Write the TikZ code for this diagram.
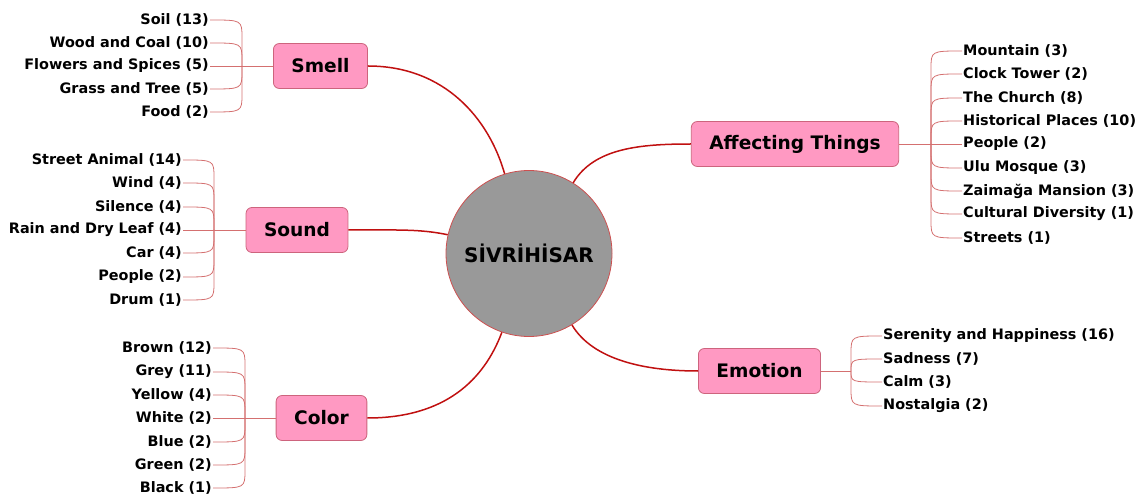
\documentclass[tikz,border=0pt]{standalone}
\usepackage{fontspec}
\setmainfont{DejaVu Sans}
\definecolor{boxpink}{RGB}{255,153,194}
\definecolor{boxedge}{RGB}{205,100,125}
\definecolor{trunkred}{RGB}{192,16,16}
\definecolor{twigred}{RGB}{212,112,112}
\definecolor{hubgrey}{RGB}{153,153,153}
\definecolor{hubedge}{RGB}{205,80,80}
\tikzset{
  hub/.style={circle, draw=hubedge, line width=0.8pt, fill=hubgrey, minimum size=166pt,
    inner sep=0pt, font=\fontsize{20}{23}\selectfont\bfseries},
  theme/.style={rectangle, rounded corners=6pt, draw=boxedge, line width=0.8pt, fill=boxpink,
    minimum height=45pt, inner xsep=18pt, font=\fontsize{18.6}{21}\selectfont\bfseries},
  leaf/.style={inner xsep=1pt, inner ysep=0pt, font=\fontsize{14.4}{16}\selectfont\bfseries},
  trunk/.style={draw=trunkred, line width=1.5pt},
  twig/.style={draw=twigred, line width=0.8pt}
}
\begin{document}
\begin{tikzpicture}[x=1pt,y=-1pt]
\useasboundingbox (0,0) rectangle (1135,494);

%% centre
\node[hub] (hub) at (529,253.5) {SİVRİHİSAR};

%% themes
\node[theme] (smell) at (320.5,66) {Smell};
\node[theme] (sound) at (297,230) {Sound};
\node[theme] (color) at (321.5,418) {Color};
\node[theme] (affecting) at (795,144) {Affecting Things};
\node[theme] (emotion) at (759.5,371) {Emotion};

%% junctions
\coordinate (smelljoin) at (242,66);
\coordinate (soundjoin) at (214,230);
\coordinate (colorjoin) at (245,418);
\coordinate (affjoin) at (931,144);
\coordinate (emojoin) at (851,371);

%% smell leaves
\node[leaf, anchor=east] (soil) at (210,20) {Soil (13)};
\node[leaf, anchor=east] (woodcoal) at (210,43) {Wood and Coal (10)};
\node[leaf, anchor=east] (flowers) at (210,66) {Flowers and Spices (5)};
\node[leaf, anchor=east] (grasstree) at (210,89) {Grass and Tree (5)};
\node[leaf, anchor=east] (food) at (210,112) {Food (2)};

%% sound leaves
\node[leaf, anchor=east] (animal) at (183,160) {Street Animal (14)};
\node[leaf, anchor=east] (wind) at (183,183) {Wind (4)};
\node[leaf, anchor=east] (silence) at (183,207) {Silence (4)};
\node[leaf, anchor=east] (rainleaf) at (183,230) {Rain and Dry Leaf (4)};
\node[leaf, anchor=east] (car) at (183,253) {Car (4)};
\node[leaf, anchor=east] (people) at (183,277) {People (2)};
\node[leaf, anchor=east] (drum) at (183,300) {Drum (1)};

%% color leaves
\node[leaf, anchor=east] (brown) at (213,348) {Brown (12)};
\node[leaf, anchor=east] (grey) at (213,372) {Grey (11)};
\node[leaf, anchor=east] (yellow) at (213,395) {Yellow (4)};
\node[leaf, anchor=east] (white) at (213,418) {White (2)};
\node[leaf, anchor=east] (blue) at (213,442) {Blue (2)};
\node[leaf, anchor=east] (green) at (213,465) {Green (2)};
\node[leaf, anchor=east] (black) at (213,488) {Black (1)};

%% affecting things leaves
\node[leaf, anchor=west] (mountain) at (962,51) {Mountain (3)};
\node[leaf, anchor=west] (clocktower) at (962,74) {Clock Tower (2)};
\node[leaf, anchor=west] (church) at (962,98) {The Church (8)};
\node[leaf, anchor=west] (historical) at (962,121) {Historical Places (10)};
\node[leaf, anchor=west] (peopleb) at (962,144) {People (2)};
\node[leaf, anchor=west] (ulumosque) at (962,168) {Ulu Mosque (3)};
\node[leaf, anchor=west] (zaimaga) at (962,191) {Zaimağa Mansion (3)};
\node[leaf, anchor=west] (cultural) at (962,214) {Cultural Diversity (1)};
\node[leaf, anchor=west] (streets) at (962,238) {Streets (1)};

%% emotion leaves
\node[leaf, anchor=west] (serenity) at (882,336) {Serenity and Happiness (16)};
\node[leaf, anchor=west] (sadness) at (882,359) {Sadness (7)};
\node[leaf, anchor=west] (calm) at (882,382) {Calm (3)};
\node[leaf, anchor=west] (nostalgia) at (882,406) {Nostalgia (2)};

%% trunks
\draw[trunk] (smell.east) .. controls (445,66) and (489,119) .. (hub.107);
\draw[trunk] (sound.east) .. controls (400,230) and (420,229) .. (hub.167);
\draw[trunk] (color.east) .. controls (445,418) and (484,380) .. (hub.251);
\draw[trunk] (affecting.west) .. controls (640,144) and (594,148) .. (hub.58);
\draw[trunk] (emotion.west) .. controls (645,371) and (593,360) .. (hub.-59);

%% smell twigs
\draw[twig] (smell.west) -- (smelljoin);
\draw[twig] (soil.east) .. controls (242,20) .. (242,38) -- (smelljoin);
\draw[twig] (woodcoal.east) .. controls (242,43) .. (242,61) -- (smelljoin);
\draw[twig] (flowers.east) -- (smelljoin);
\draw[twig] (grasstree.east) .. controls (242,89) .. (242,71) -- (smelljoin);
\draw[twig] (food.east) .. controls (242,112) .. (242,94) -- (smelljoin);

%% sound twigs
\draw[twig] (sound.west) -- (soundjoin);
\draw[twig] (animal.east) .. controls (214,160) .. (214,178) -- (soundjoin);
\draw[twig] (wind.east) .. controls (214,183) .. (214,201) -- (soundjoin);
\draw[twig] (silence.east) .. controls (214,207) .. (214,225) -- (soundjoin);
\draw[twig] (rainleaf.east) -- (soundjoin);
\draw[twig] (car.east) .. controls (214,253) .. (214,235) -- (soundjoin);
\draw[twig] (people.east) .. controls (214,277) .. (214,259) -- (soundjoin);
\draw[twig] (drum.east) .. controls (214,300) .. (214,282) -- (soundjoin);

%% color twigs
\draw[twig] (color.west) -- (colorjoin);
\draw[twig] (brown.east) .. controls (245,348) .. (245,366) -- (colorjoin);
\draw[twig] (grey.east) .. controls (245,372) .. (245,390) -- (colorjoin);
\draw[twig] (yellow.east) .. controls (245,395) .. (245,413) -- (colorjoin);
\draw[twig] (white.east) -- (colorjoin);
\draw[twig] (blue.east) .. controls (245,442) .. (245,424) -- (colorjoin);
\draw[twig] (green.east) .. controls (245,465) .. (245,447) -- (colorjoin);
\draw[twig] (black.east) .. controls (245,488) .. (245,470) -- (colorjoin);

%% affecting things twigs
\draw[twig] (affecting.east) -- (affjoin);
\draw[twig] (mountain.west) .. controls (931,51) .. (931,69) -- (affjoin);
\draw[twig] (clocktower.west) .. controls (931,74) .. (931,92) -- (affjoin);
\draw[twig] (church.west) .. controls (931,98) .. (931,116) -- (affjoin);
\draw[twig] (historical.west) .. controls (931,121) .. (931,139) -- (affjoin);
\draw[twig] (peopleb.west) -- (affjoin);
\draw[twig] (ulumosque.west) .. controls (931,168) .. (931,150) -- (affjoin);
\draw[twig] (zaimaga.west) .. controls (931,191) .. (931,173) -- (affjoin);
\draw[twig] (cultural.west) .. controls (931,214) .. (931,196) -- (affjoin);
\draw[twig] (streets.west) .. controls (931,238) .. (931,220) -- (affjoin);

%% emotion twigs
\draw[twig] (emotion.east) -- (emojoin);
\draw[twig] (serenity.west) .. controls (851,336) .. (851,354) -- (emojoin);
\draw[twig] (sadness.west) .. controls (851,359) .. (emojoin);
\draw[twig] (calm.west) .. controls (851,382) .. (emojoin);
\draw[twig] (nostalgia.west) .. controls (851,406) .. (851,388) -- (emojoin);
\end{tikzpicture}
\end{document}
